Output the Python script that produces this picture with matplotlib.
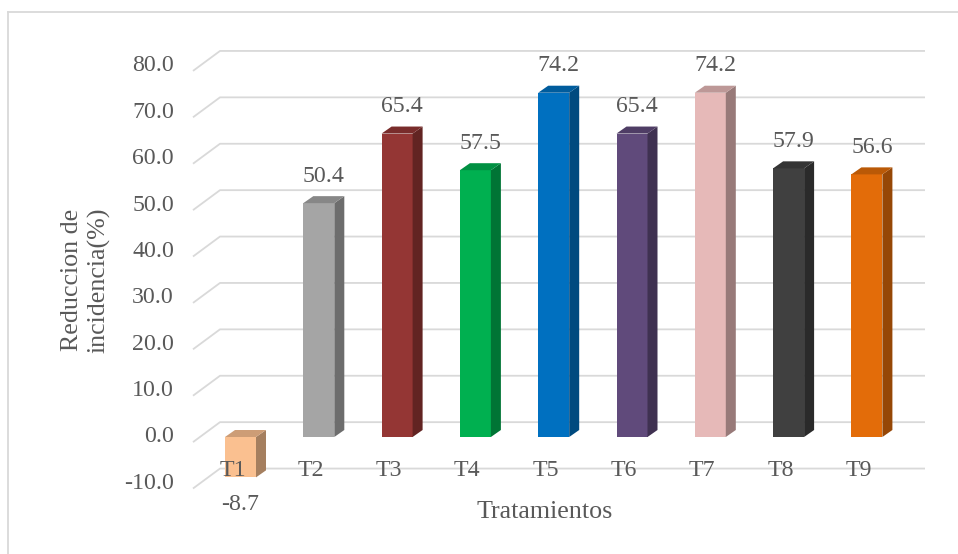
import matplotlib
matplotlib.use("Agg")
import matplotlib.pyplot as plt
from matplotlib.patches import Polygon
from matplotlib.lines import Line2D
from matplotlib.colors import to_rgb

# Data
categories = ["T1", "T2", "T3", "T4", "T5", "T6", "T7", "T8", "T9"]
values = [-8.7, 50.4, 65.4, 57.5, 74.2, 65.4, 74.2, 57.9, 56.6]
front_colors = ["#FAC090", "#A5A5A5", "#943634", "#00B050", "#0070C0",
                "#604A7B", "#E6B9B8", "#404040", "#E36C09"]
y_ticks = [-10, 0, 10, 20, 30, 40, 50, 60, 70, 80]

TEXT = "#595959"
GRID = "#D9D9D9"
FONT = "Liberation Serif"

W, H = 958, 554
fig = plt.figure(figsize=(W / 100, H / 100), dpi=100)
ax = fig.add_axes([0, 0, 1, 1])
ax.set_axis_off()

# pixel layout of the plot: category spacing and value scale
PX0, STEP = 240.5, 78.3      # x pixel of first bar centre, pixels per category
PY0, PPU = 437.0, 4.64       # y pixel of value 0, pixels per value unit


def xu(px):
    return (px - PX0) / STEP


def yu(py):
    return (PY0 - py) / PPU


ax.set_xlim(xu(0), xu(W))
ax.set_ylim(yu(H), yu(0))

# back-wall gridlines with their slanted side-wall segment
x_front, x_back, x_right = xu(193), xu(220), xu(925)
for v in y_ticks:
    ax.plot([x_front, x_back, x_right], [v - 1.1, v + 3.2, v + 3.2],
            color=GRID, lw=1.3, zorder=1, solid_capstyle="butt")
    ax.text(xu(174), v, f"{v:.1f}", ha="right", va="center",
            fontsize=17.2, color=TEXT, family=FONT)

# 3D-style columns: front face plus top and side faces
bw = 31 / STEP
dx, dy = 10 / STEP, 7 / PPU
xs = list(range(len(categories)))


def shade(c, f):
    r, g, b = to_rgb(c)
    return (r * f, g * f, b * f)


ax.bar(xs, values, width=bw, color=front_colors, zorder=3, linewidth=0)
for x, v, c, name in zip(xs, values, front_colors, categories):
    x0, x1 = x - bw / 2, x + bw / 2
    top, bot = max(v, 0), min(v, 0)
    side = Polygon([(x1, bot), (x1 + dx, bot + dy), (x1 + dx, top + dy), (x1, top)],
                   closed=True, facecolor=shade(c, 0.66), edgecolor="none", zorder=3)
    cap = Polygon([(x0, top), (x0 + dx, top + dy), (x1 + dx, top + dy), (x1, top)],
                  closed=True, facecolor=shade(c, 0.82), edgecolor="none", zorder=3)
    ax.add_patch(side)
    ax.add_patch(cap)
    if v >= 0:
        ax.text(x + 5 / STEP, v + 27 / PPU, f"{v:.1f}", ha="center", va="center",
                fontsize=17.2, color=TEXT, family=FONT, zorder=4)
    else:
        ax.text(x, v - 27 / PPU, f"{v:.1f}", ha="center", va="center",
                fontsize=17.2, color=TEXT, family=FONT, zorder=4)
    ax.text(x - 8 / STEP, yu(470), name, ha="center", va="center",
            fontsize=17.2, color=TEXT, family=FONT, zorder=5)

# axis titles
ax.text(xu(545), yu(512), "Tratamientos", ha="center", va="center",
        fontsize=18.7, color=TEXT, family=FONT)
ax.text(xu(86), yu(280), "Reduccion de\nincidencia(%)", ha="center", va="center",
        rotation=90, fontsize=18.7, color=TEXT, family=FONT, linespacing=1.25,
        multialignment="center")

# chart-area frame
fig.add_artist(Line2D([8 / W, 1], [1 - 12 / H, 1 - 12 / H], color=GRID, lw=1.3,
                      transform=fig.transFigure))
fig.add_artist(Line2D([8 / W, 8 / W], [0, 1 - 12 / H], color=GRID, lw=1.3,
                      transform=fig.transFigure))

fig.savefig("out.png", dpi=100, facecolor="white")
